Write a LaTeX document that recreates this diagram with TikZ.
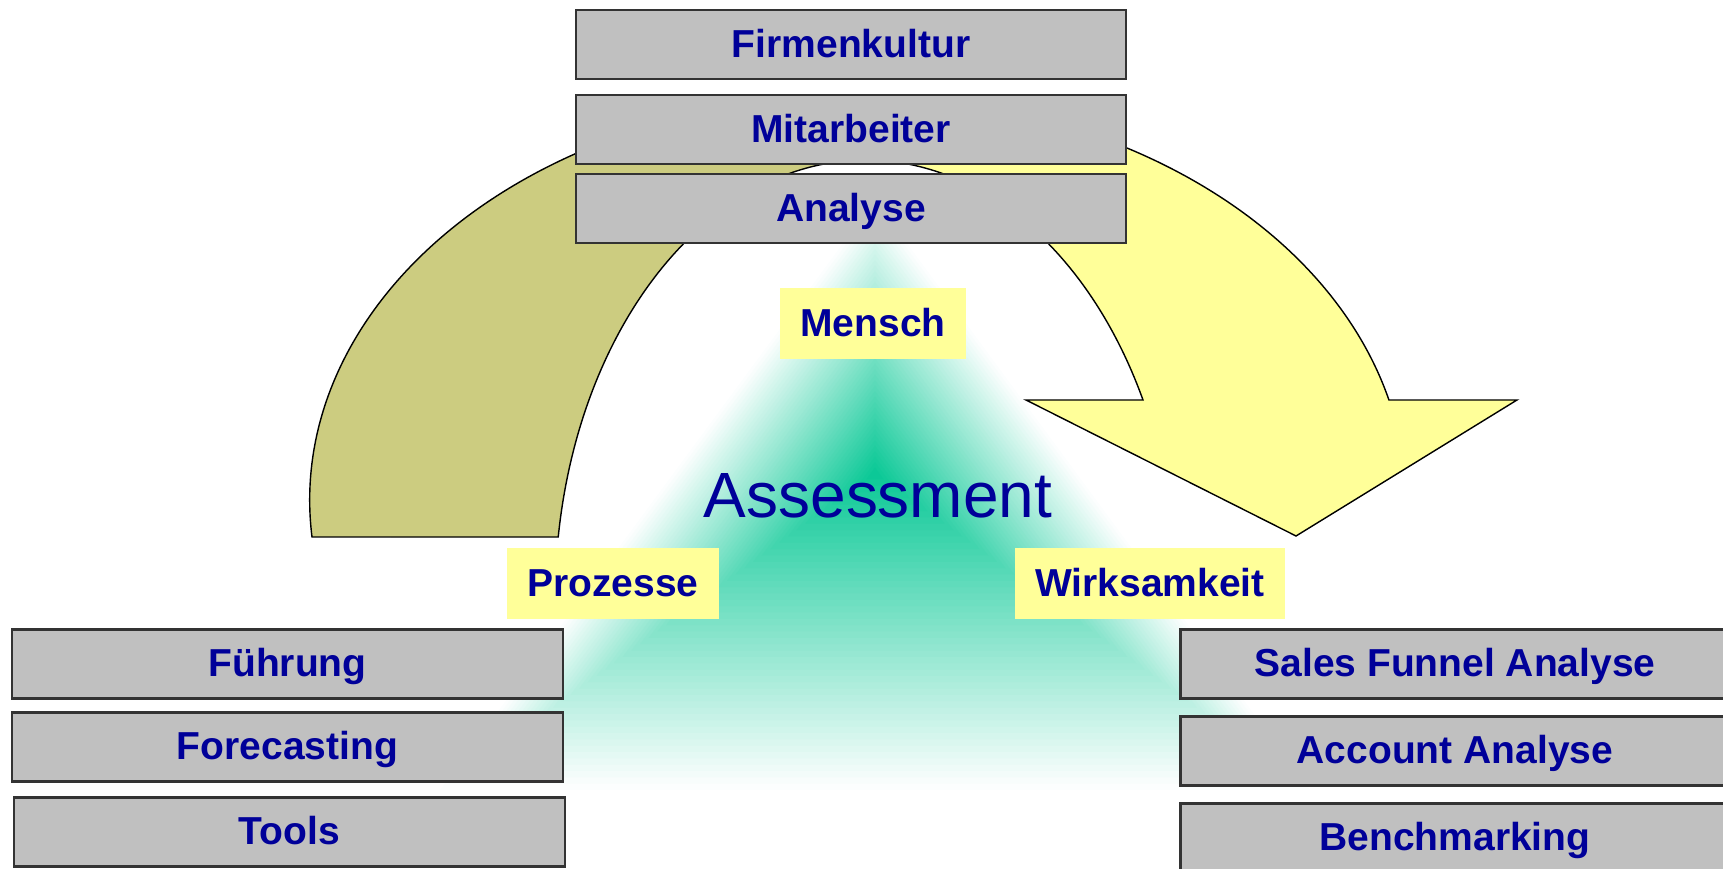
\documentclass[tikz,border=0pt]{standalone}
\usepackage{fontspec}
\setmainfont{Liberation Sans}
\usepackage{tikz}
\usetikzlibrary{calc}
\definecolor{boxgrey}{RGB}{192,192,192}
\definecolor{tagyellow}{RGB}{255,255,153}
\definecolor{arcolive}{RGB}{204,204,128}
\definecolor{textblue}{RGB}{0,0,153}
\definecolor{glowgreen}{RGB}{10,200,150}

\tikzset{
  greybox/.style={draw=black!80, line width=0.6pt, fill=boxgrey, minimum width=5.5cm,
    minimum height=0.69cm, inner sep=0pt, text=textblue,
    font=\bfseries\fontsize{11.1}{13}\selectfont, text height=0.72em, text depth=0pt},
  tag/.style={fill=tagyellow, minimum height=0.71cm, inner xsep=0.2cm, inner ysep=0pt,
    text=textblue, font=\bfseries\fontsize{11.1}{13}\selectfont,
    text height=0.72em, text depth=0pt}
}

\begin{document}
\begin{tikzpicture}[>=latex]
                    \useasboundingbox (0,0) rectangle (17.23,8.69);
                    \clip (0,0) rectangle (17.23,8.69);

                    % green glow, nested triangles fading out to white
                    \coordinate (gc) at (8.75,3.96);
                    \coordinate (gt) at (8.75,6.69);
                    \coordinate (gl) at (4.40,0.79);
                    \coordinate (gr) at (13.10,0.79);
                    \foreach \i in {50,...,1} {
                            \pgfmathsetmacro{\s}{\i/50}
                            \pgfmathtruncatemacro{\c}{101-2*\i}
                            \fill[glowgreen!\c!white] ($(gc)!\s!(gt)$) -- ($(gc)!\s!(gl)$) -- ($(gc)!\s!(gr)$) -- cycle;
                    }

                    % the curved arrow, olive half and yellow half
                    \filldraw[fill=arcolive, draw=black, line width=0.4pt] (3.12,3.32)
                        arc[start angle=185.26, end angle=90, x radius=5.48, y radius=4.04] -- (8.66,7.09)
                        arc[start angle=90, end angle=171.77, x radius=3.11, y radius=4.40] -- cycle;
                    \filldraw[fill=tagyellow, draw=black, line width=0.4pt] (8.58,7.73)
                        arc[start angle=90, end angle=14.33, x radius=5.48, y radius=4.04]
                        -- (15.17,4.69) -- (12.96,3.33) -- (10.26,4.69) -- (11.43,4.69)
                        arc[start angle=27.04, end angle=90, x radius=3.11, y radius=4.40] -- cycle;

                    % the three corners
                    \node[tag] (mensch) at (8.73,5.455) {Mensch};
                    \node[tag] (prozesse) at (6.13,2.855) {Prozesse};
                    \node[tag] (wirksamkeit) at (11.50,2.855) {Wirksamkeit};
                    \node[anchor=base, text=textblue, font=\fontsize{18.2}{22}\selectfont] (assessment) at (8.78,3.515) {Assessment};

                    % grey boxes
                    \node[greybox] (firmenkultur) at (8.51,8.245) {Firmenkultur};
                    \node[greybox] (mitarbeiter) at (8.51,7.395) {Mitarbeiter};
                    \node[greybox] (analyse) at (8.51,6.605) {Analyse};

                    \node[greybox, minimum width=5.51cm] (fuehrung) at (2.875,2.05) {Führung};
                    \node[greybox, minimum width=5.51cm] (forecasting) at (2.875,1.22) {Forecasting};
                    \node[greybox, minimum width=5.51cm] (tools) at (2.895,0.37) {Tools};

                    \node[greybox, minimum width=5.49cm] (funnel) at (14.55,2.05) {Sales Funnel Analyse};
                    \node[greybox, minimum width=5.49cm] (account) at (14.55,1.18) {Account Analyse};
                    \node[greybox, minimum width=5.49cm] (benchmarking) at (14.55,0.31) {Benchmarking};
                \end{tikzpicture}
\end{document}
